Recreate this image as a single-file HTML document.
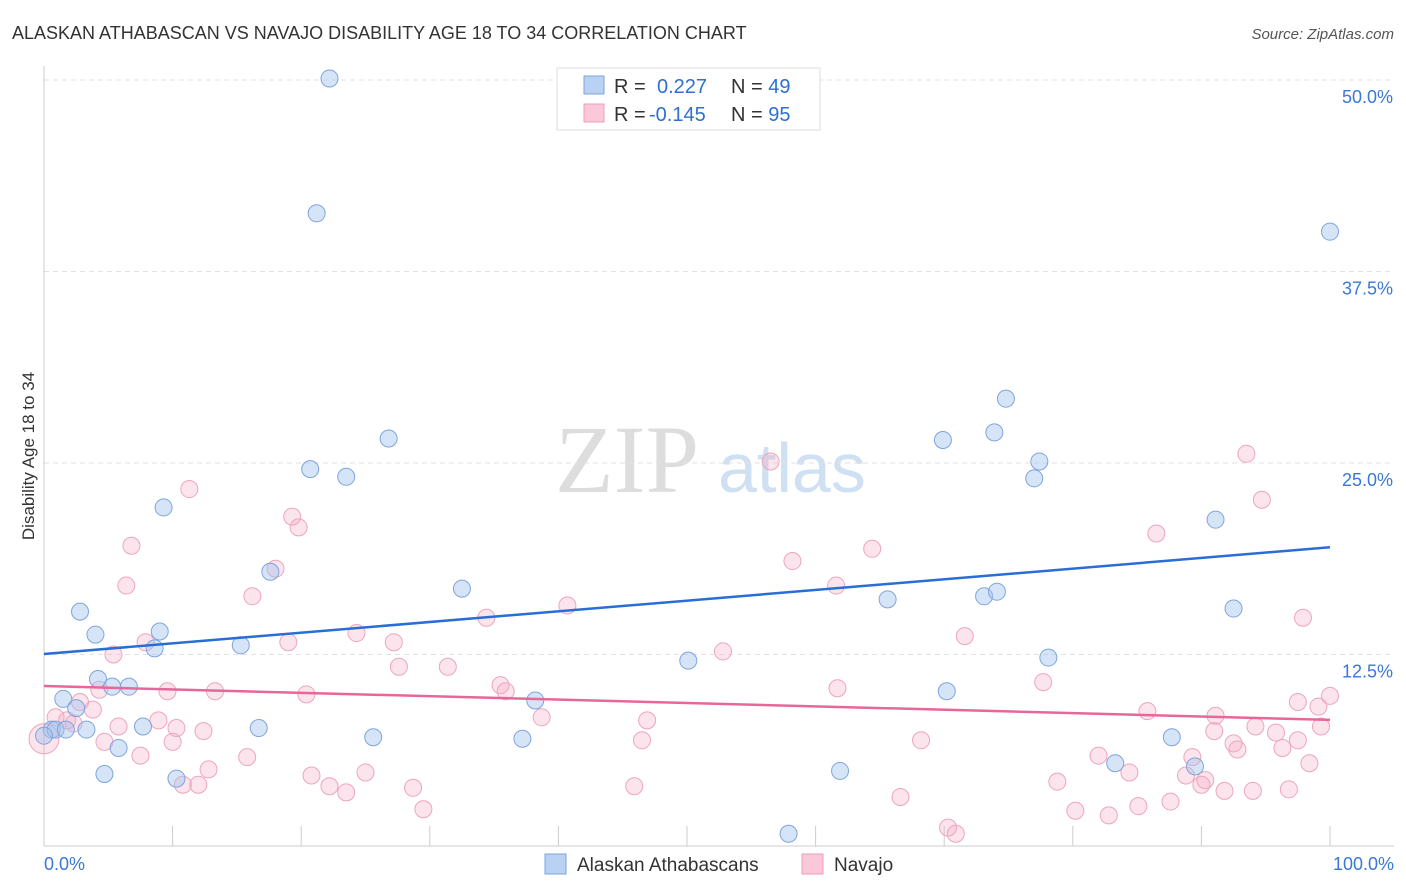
<!DOCTYPE html>
<html><head><meta charset="utf-8"><style>
body{margin:0;background:#fff;font-family:"Liberation Sans",sans-serif;}
svg{display:block}
</style></head><body>
<svg id="chart" width="1406" height="892">
<text x="12" y="39" font-size="18" fill="#333">ALASKAN ATHABASCAN VS NAVAJO DISABILITY AGE 18 TO 34 CORRELATION CHART</text>
<text x="1394" y="39" font-size="15" fill="#555" font-style="italic" text-anchor="end">Source: ZipAtlas.com</text>
<text x="34" y="456" font-size="17" fill="#333" text-anchor="middle" transform="rotate(-90 34 456)">Disability Age 18 to 34</text>
<text x="555" y="492" font-size="96" fill="#ddd" font-family="Liberation Serif,serif">ZIP</text>
<text x="718" y="492" font-size="70" fill="#cfe0f3">atlas</text>
<g id="grid"></g><g id="pts"></g><g id="lines"></g>
<g>
<rect x="557" y="68" width="263" height="62" fill="#fff" stroke="#ddd"/>
<rect x="584" y="76" width="20" height="18" fill="#b9d1f3" stroke="#7da3dd"/>
<rect x="584" y="104" width="20" height="18" fill="#fac8d8" stroke="#ee9fb8"/>
<text x="614" y="93" font-size="20" fill="#333">R = <tspan x="657" fill="#2f6fd0">0.227</tspan><tspan x="731" fill="#333">N = </tspan><tspan fill="#2f6fd0">49</tspan></text>
<text x="614" y="121" font-size="20" fill="#333">R = <tspan x="649" fill="#2f6fd0">-0.145</tspan><tspan x="731" fill="#333">N = </tspan><tspan fill="#2f6fd0">95</tspan></text>
</g>
<g>
<rect x="545" y="854" width="21" height="20" fill="#b9d1f3" stroke="#7da3dd"/>
<text x="577" y="871" font-size="19" fill="#333">Alaskan Athabascans</text>
<rect x="802" y="854" width="21" height="20" fill="#fac8d8" stroke="#ee9fb8"/>
<text x="834" y="871" font-size="19" fill="#333">Navajo</text>
</g>
</svg>
<script>
const yTicks=[12.5,25,37.5,50];
const yTickLabels=["12.5%","25.0%","37.5%","50.0%"];
const xTickLabels=["0.0%","100.0%"];
const blueX=[22.2,21.2,100,74.8,26.8,69.9,73.9,77.4,20.7,23.5,77.0,9.3,91.1,17.6,32.5,65.6,73.1,74.1,2.8,92.5,4.0,9.0,8.6,15.3,50.1,78.1,4.2,5.3,6.6,1.5,2.5,38.2,70.2,0.6,0.9,1.7,3.3,7.7,16.7,25.6,37.2,87.7,5.8,83.3,89.5,4.7,10.3,61.9,57.9,0];
const blueY=[50.1,41.3,40.1,29.2,26.6,26.5,27.0,25.1,24.6,24.1,24.0,22.1,21.3,17.9,16.8,16.1,16.3,16.6,15.3,15.5,13.8,14.0,12.9,13.1,12.1,12.3,10.9,10.4,10.4,9.6,9.0,9.5,10.1,7.6,7.6,7.6,7.6,7.8,7.7,7.1,7.0,7.1,6.4,5.4,5.2,4.7,4.4,4.9,0.8,7.2];
const pinkX=[93.5,56.5,11.3,94.7,19.3,19.8,86.5,6.8,64.4,58.2,18.0,61.6,6.4,16.2,40.7,34.4,97.9,24.3,71.6,7.9,27.2,19.0,5.4,52.8,31.4,27.6,35.5,77.7,61.7,35.9,9.6,13.3,4.3,20.4,100,97.5,2.8,3.8,85.8,99.1,38.7,91.1,8.9,0.9,1.8,2.3,5.8,10.3,12.4,46.9,94.2,91.0,99.3,95.8,92.5,92.8,97.5,96.3,4.7,10.0,46.5,68.2,7.5,15.8,89.3,82.0,98.4,12.8,25.0,20.8,84.4,88.8,90.3,78.8,45.9,10.8,12.0,22.2,23.5,28.7,90.0,91.8,94.0,96.8,66.6,87.6,85.1,29.5,80.2,82.8,70.3,70.9,0];
const pinkY=[25.6,25.1,23.3,22.6,21.5,20.8,20.4,19.6,19.4,18.6,18.1,17.0,17.0,16.3,15.7,14.9,14.9,13.9,13.7,13.3,13.3,13.3,12.5,12.7,11.7,11.7,10.5,10.7,10.3,10.1,10.1,10.1,10.2,9.9,9.8,9.4,9.4,8.9,8.8,9.1,8.4,8.5,8.2,8.4,8.2,8.0,7.8,7.7,7.5,8.2,7.8,7.5,7.8,7.4,6.7,6.3,6.9,6.4,6.8,6.8,6.9,6.9,5.9,5.8,5.8,5.9,5.4,5.0,4.8,4.6,4.8,4.6,4.3,4.2,3.9,4.0,4.0,3.9,3.5,3.8,4.0,3.6,3.6,3.7,3.2,2.9,2.6,2.4,2.3,2.0,1.2,0.8,7.0];
const blueTrend=[12.53,19.5];
const pinkTrend=[10.44,8.23];
const NS="http://www.w3.org/2000/svg";
const X=v=>44+v*12.86, Y=v=>846-v*15.32;
function mk(t,a,p){const e=document.createElementNS(NS,t);for(const k in a)e.setAttribute(k,a[k]);p.appendChild(e);return e;}
const grid=document.getElementById('grid');
yTicks.forEach((t,i)=>{
 const l=mk('line',{x1:44,x2:1394,y1:Y(t),y2:Y(t),stroke:'#e2e2e2','stroke-dasharray':'5,4'},grid);
 
 
 const tx=mk('text',{x:1393,y:Y(t)+23,'font-size':18,fill:'#3a78d4','text-anchor':'end'},grid);
 tx.textContent=yTickLabels[i];
 
 
});
const ax=mk('line',{x1:44,x2:44,y1:66,y2:846,stroke:'#ccc'},grid);


const bx=mk('line',{x1:44,x2:1394,y1:846,y2:846,stroke:'#ccc'},grid);


for(let i=0;i<=10;i++){const t=mk('line',{x1:X(i*10),x2:X(i*10),y1:826,y2:846,stroke:'#ccc'},grid);
 
 }
[[0,'start',44],[100,'end',1394]].forEach((d,i)=>{const t=mk('text',{x:d[2],y:870,'font-size':18,fill:'#3a78d4','text-anchor':d[1]},grid);t.textContent=xTickLabels[i];
 
 });
const pts=document.getElementById('pts');
pinkX.forEach((x,i)=>{const c=mk('circle',{cx:X(x),cy:Y(pinkY[i]),r:(i==pinkX.length-1?15:8.5),fill:'rgba(245,165,192,0.3)',stroke:'#eea5bd','stroke-width':1},pts);
 
 });
blueX.forEach((x,i)=>{const c=mk('circle',{cx:X(x),cy:Y(blueY[i]),r:8.5,fill:'rgba(165,195,238,0.45)',stroke:'#7fa5dc','stroke-width':1},pts);
 
 });
const lines=document.getElementById('lines');
const bl=mk('line',{x1:X(0),y1:Y(blueTrend[0]),x2:X(100),y2:Y(blueTrend[1]),stroke:'#2a6dd6','stroke-width':2.5},lines);


const pl=mk('line',{x1:X(0),y1:Y(pinkTrend[0]),x2:X(100),y2:Y(pinkTrend[1]),stroke:'#e8679a','stroke-width':2.5},lines);


</script>
</body></html>
